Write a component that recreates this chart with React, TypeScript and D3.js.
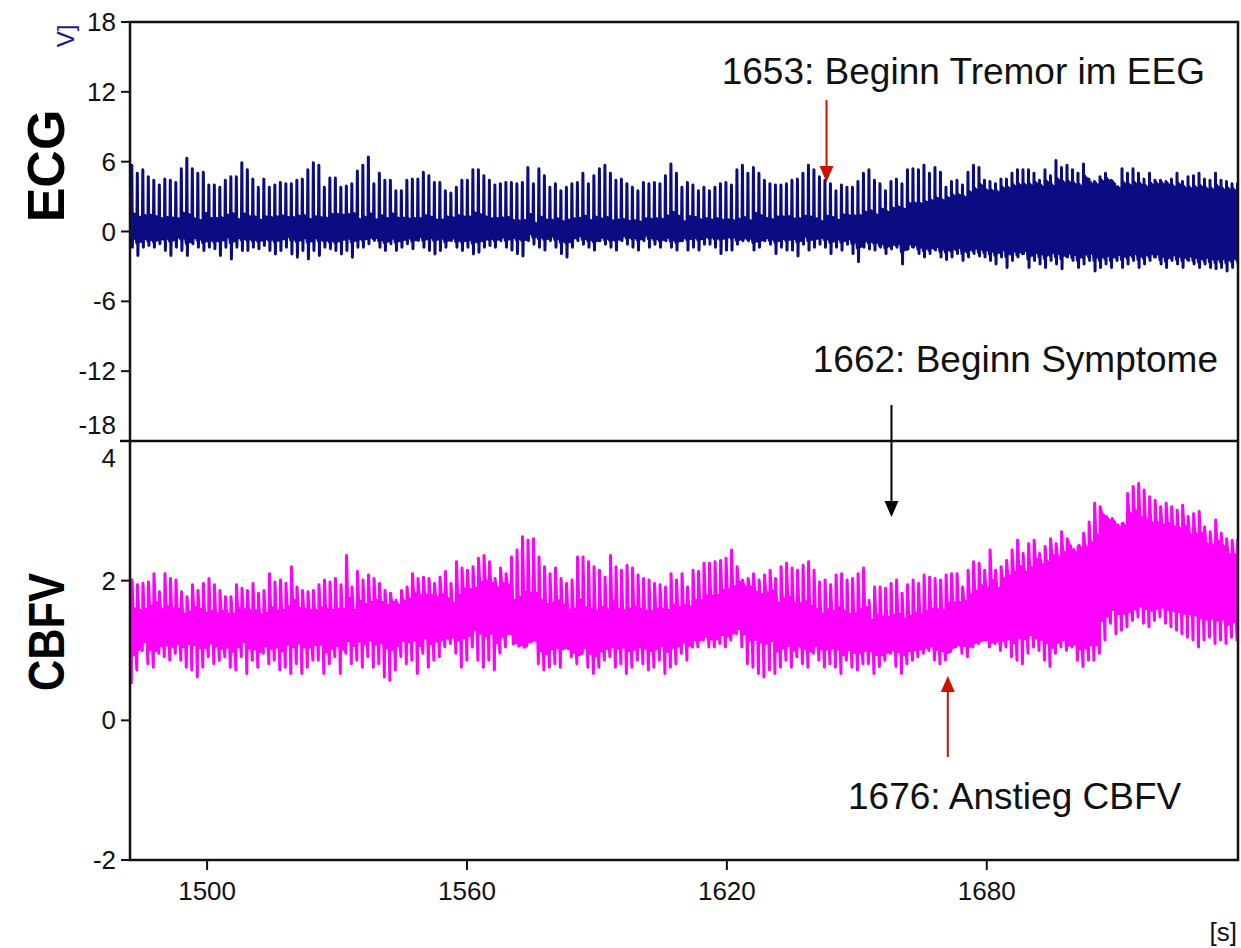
import * as d3 from "d3";

// beat grid (s)
const beatStart = 1482.5;
const beatStep = 1.27;
const binStart = 1482;
const binWidth = 4;

// ECG R-peak heights per beat
const ecgPeaks = [
  5.7, 5.0, 5.3, 4.7, 4.4, 4.0, 4.5, 4.4, 4.2, 5.4,
  6.3, 5.4, 5.0, 5.1, 4.0, 4.0, 3.8, 4.4, 4.7, 4.7,
  5.9, 5.3, 4.5, 3.8, 4.5, 3.8, 4.0, 4.2, 4.1, 4.1,
  4.4, 4.5, 5.3, 5.9, 5.7, 3.8, 4.6, 4.6, 3.8, 3.9,
  4.1, 5.2, 5.7, 6.4, 4.1, 5.0, 4.4, 4.4, 3.5, 3.5,
  4.4, 4.5, 4.5, 5.1, 4.8, 4.2, 4.2, 3.5, 3.3, 3.8,
  4.4, 4.4, 5.3, 5.3, 4.8, 4.4, 4.0,
  4.1, 4.2, 4.2, 4.1, 4.2, 5.5, 4.1, 5.4, 4.8,
  3.8, 4.1, 3.5, 3.8, 4.1, 4.2, 5.0, 4.1, 4.8, 5.4,
  5.7, 5.0, 4.4, 4.5, 4.1, 3.8, 3.5, 4.2, 4.1,
  4.2, 4.1, 4.8, 5.8, 5.0, 3.8, 4.2, 4.0, 3.5, 3.8,
  3.5, 3.8, 4.1, 4.2, 4.0, 5.3, 5.7, 5.0, 5.5, 5.0,
  4.4, 4.1, 4.0, 4.0, 4.1, 4.4, 4.5, 5.0, 5.7, 5.3,
  4.7, 4.4, 4.1, 3.5, 4.0, 3.8, 3.8, 4.3, 5.0,
  5.3, 4.4, 4.1, 3.5, 4.3, 4.5, 4.1, 5.3, 5.4, 5.3,
  5.7, 5.0, 5.5, 5.1, 3.8, 4.3, 4.4, 4.0, 5.1, 5.7,
  5.5, 4.4, 4.3, 4.1, 4.5, 4.5, 5.0, 5.3, 5.3, 5.3,
  5.0, 4.4, 5.3, 4.8, 6.1, 5.5, 5.7, 5.3, 5.0, 5.8,
  4.5, 4.3, 4.7, 5.0, 4.4, 3.2, 5.4, 5.0, 5.4, 5.0,
  4.5, 5.0, 4.4, 4.4, 4.3, 4.5, 5.0, 4.3, 4.7, 4.8,
  5.0, 4.5, 4.4, 5.0, 4.4, 4.3, 4.1, 4.1,
];

// ECG trough per beat
const ecgTroughs = [
  -1.35, -2.07, -1.35, -1.2, -1.35, -1.06, -1.64, -2.07, -1.35, -1.64,
  -2.07, -1.06, -1.35, -1.64, -1.35, -1.49, -2.07, -1.35, -2.36, -1.35,
  -1.64, -1.64, -1.35, -1.49, -1.2, -1.64, -1.93, -1.64, -1.35, -1.93,
  -2.21, -1.64, -2.36, -1.64, -2.07, -1.35, -1.49, -1.64, -1.93, -1.64,
  -2.21, -1.35, -1.35, -1.06, -0.78, -1.35, -1.64, -1.06, -1.64, -1.35,
  -1.06, -1.49, -0.78, -1.35, -1.64, -1.93, -1.64, -1.35, -0.78, -1.35,
  -1.64, -1.35, -1.93, -1.78, -1.35, -1.2, -1.35,
  -0.8, -1.35, -1.6, -1.9, -2.1, -0.8, -1.1, -1.35, -1.6, -0.8,
  -1.35, -1.9, -2.2, -1.35, -0.8, -1.1, -1.35, -1.6, -0.8, -1.1,
  -1.35, -1.6, -0.8, -1.1, -1.35, -1.6, -0.8, -1.35, -1.1, -1.35,
  -0.8, -1.35, -1.6, -0.8, -1.6, -1.35, -1.6, -1.1, -1.1, -1.35,
  -1.9, -1.6, -1.6, -1.1, -0.8, -0.8, -1.6, -1.35, -0.8, -1.1,
  -1.9, -1.35, -1.6, -1.6, -2.1, -1.1, -1.6, -1.35, -1.1, -1.35,
  -1.9, -1.35, -1.6, -1.1, -1.9, -2.6, -1.35,
  -1.5, -1.6, -1.35, -1.9, -1.5, -1.35, -2.8, -1.5, -1.35, -1.9,
  -2.2, -1.9, -1.6, -2.2, -2.4, -2.2, -1.9, -2.5, -2.2, -1.9,
  -2.1, -2.2, -2.5, -2.8, -2.2, -3.1, -2.5, -2.2, -1.9, -3.1,
  -2.5, -2.8, -3.1, -2.5, -2.8, -3.2, -2.2, -2.5, -3.1, -2.8,
  -2.5, -3.4, -3.1, -2.8, -3.1, -2.5, -3.1, -2.8, -2.5, -3.1,
  -2.8, -2.5, -2.2, -2.8, -3.1, -2.5, -2.8, -3.1, -2.5, -2.8,
  -3.1, -2.8, -3.1, -3.2, -3.1, -3.4, -3.1, -2.8,
];

// dense ECG band per 4 s bin
const ecgBandHi = [
  1.4, 1.3, 1.3, 1.2, 1.3, 1.4, 1.3, 1.2, 1.3, 1.3,
  1.2, 1.4, 1.5, 1.3, 1.2, 1.3, 1.2, 1.1, 1.3, 1.4,
  1.3, 1.2, 1.1, 1.0, 1.0, 1.1, 1.2, 1.1, 1.0, 1.0,
  1.2, 1.3, 1.2, 1.1, 1.0, 1.1, 1.3, 1.3, 1.2, 1.1,
  1.2, 1.4, 1.6, 1.9, 2.2, 2.5, 2.8, 3.1, 3.4, 3.7,
  3.9, 4.1, 4.2, 4.3, 4.2, 4.4, 4.3, 4.2, 4.1, 4.2,
  4.0, 3.9, 3.8, 3.7,
];
const ecgBandLo = [
  -0.8, -0.8, -0.7, -0.8, -0.9, -0.8, -0.7, -0.8, -0.8, -0.7,
  -0.8, -0.9, -0.8, -0.7, -0.8, -0.8, -0.7, -0.7, -0.8, -0.9,
  -0.8, -0.7, -0.6, -0.6, -0.7, -0.7, -0.8, -0.7, -0.6, -0.6,
  -0.7, -0.8, -0.7, -0.6, -0.6, -0.7, -0.8, -0.8, -0.7, -0.7,
  -0.8, -0.9, -1.1, -1.3, -1.4, -1.5, -1.6, -1.7, -1.8, -1.9,
  -2.0, -2.1, -2.2, -2.2, -2.3, -2.3, -2.4, -2.3, -2.3, -2.4,
  -2.4, -2.5, -2.6, -2.6,
];

// CBFV systolic maxima per beat
const cbfvMax = [
  2.01, 1.94, 1.96, 1.98, 2.10, 1.84, 2.10, 2.03, 2.01,
  1.84, 1.77, 1.94, 1.86, 1.96, 2.03, 1.94, 1.86, 1.77, 1.77,
  1.94, 1.89, 1.86, 1.96, 1.82, 1.86, 2.10, 1.98, 2.01, 1.96,
  2.20, 1.91, 1.86, 1.84, 1.86, 1.94, 2.01, 1.98, 2.03, 1.94,
  2.36, 1.91, 2.13, 2.01, 2.08, 2.03, 1.96, 1.86, 1.82, 1.72,
  1.86, 1.91, 2.10, 2.03, 2.05, 2.03, 1.96, 2.05, 2.13, 1.96,
  2.27, 2.18, 2.15, 2.20, 2.32, 2.36, 2.27, 2.03,
  2.18, 2.10, 2.34, 2.44, 2.63, 2.58, 2.60, 2.34, 2.20, 2.10,
  2.18, 2.03, 1.96, 2.01, 2.34, 2.34, 2.27, 2.20, 2.15, 2.05,
  2.36, 2.20, 2.15, 2.22, 2.18, 2.08, 2.03, 2.01, 1.96, 1.94,
  1.91, 2.10, 2.01, 2.10, 1.91, 2.15, 2.13, 2.25, 2.25, 2.27,
  2.29, 2.32, 2.44, 2.20, 2.01, 2.03, 2.10, 2.01, 2.08, 2.15,
  2.03, 2.20, 2.25, 2.18, 2.15, 2.22, 2.27, 2.15, 1.98, 2.01,
  1.94, 2.08, 2.10, 2.01, 2.03, 2.10, 2.18,
  1.72, 1.91, 1.91, 1.89, 1.96, 2.01, 1.82, 1.94, 2.01, 1.96,
  2.08, 2.05, 2.03, 2.01, 2.08, 2.10, 2.10, 1.91, 2.15, 2.27,
  2.25, 2.15, 2.44, 2.15, 2.20, 2.29, 2.44, 2.58, 2.39, 2.53,
  2.58, 2.39, 2.49, 2.60, 2.53, 2.70, 2.60, 2.34, 2.49, 2.68,
  2.84, 3.11, 3.06, 2.87, 2.80, 2.58, 2.82, 3.25, 3.35, 3.39,
  3.30, 3.20, 3.15, 3.06, 3.11, 3.06, 3.01, 3.08, 2.92, 2.96,
  2.99, 2.77, 2.70, 2.87, 2.68, 2.60, 2.58, 2.58,
];

// CBFV diastolic minima per beat
const cbfvMin = [
  0.52, 0.72, 1.00, 0.81, 0.76, 0.96, 0.91, 0.86, 0.96, 0.86,
  0.76, 0.72, 0.62, 0.76, 0.91, 0.81, 0.86, 0.91, 0.76, 0.72,
  0.91, 0.67, 0.86, 0.76, 0.96, 0.81, 0.86, 0.72, 0.76, 0.67,
  0.81, 0.67, 0.76, 0.86, 0.86, 0.67, 0.81, 0.91, 0.67, 0.96,
  0.81, 0.86, 0.76, 0.91, 0.76, 0.81, 0.62, 0.57, 0.72, 0.91,
  0.81, 0.86, 0.67, 0.96, 0.76, 0.86, 0.91, 1.05, 1.10, 0.96,
  0.76, 0.86, 1.05, 0.86, 0.76, 0.86, 0.72,
  0.96, 1.05, 1.24, 1.15, 1.10, 1.29, 1.19, 0.81, 0.72, 0.76,
  0.81, 0.76, 1.05, 0.91, 0.81, 0.96, 0.76, 0.67, 0.76, 0.86,
  0.91, 0.76, 0.81, 0.67, 0.76, 0.86, 0.81, 0.72, 0.76, 0.86,
  0.67, 0.76, 0.81, 0.96, 0.86, 1.05, 1.05, 1.15, 1.05, 1.05,
  1.10, 1.05, 1.15, 1.24, 1.05, 0.81, 0.76, 0.67, 0.62, 0.72,
  0.67, 0.76, 0.86, 0.76, 0.91, 0.81, 0.76, 0.96, 0.86, 0.76,
  0.81, 0.76, 0.67, 0.86, 0.76, 0.72, 0.81,
  0.81, 0.67, 0.77, 0.86, 0.96, 0.77, 0.67, 0.81, 0.86, 0.91,
  0.96, 1.00, 0.86, 0.81, 0.86, 1.05, 1.15, 0.96, 0.91, 1.05,
  1.10, 1.15, 1.05, 1.10, 1.00, 1.05, 0.91, 0.86, 0.81, 0.96,
  1.05, 1.00, 0.86, 0.77, 0.96, 1.05, 1.00, 1.05, 0.86, 0.77,
  0.86, 0.86, 0.96, 1.15, 1.39, 1.24, 1.29, 1.34, 1.43, 1.48,
  1.39, 1.34, 1.43, 1.48, 1.39, 1.34, 1.29, 1.24, 1.19, 1.15,
  1.05, 1.15, 1.19, 1.10, 1.15, 1.10, 1.19, 1.15,
];

// dense CBFV band per 4 s bin
const cbfvBandHi = [
  1.6, 1.65, 1.6, 1.6, 1.55, 1.55, 1.6, 1.55, 1.6, 1.65,
  1.6, 1.6, 1.65, 1.7, 1.7, 1.7, 1.8, 1.8, 1.75, 1.9,
  2.0, 1.95, 1.8, 1.75, 1.7, 1.65, 1.6, 1.65, 1.6, 1.6,
  1.6, 1.65, 1.7, 1.8, 1.9, 1.95, 1.85, 1.75, 1.7, 1.6,
  1.6, 1.55, 1.55, 1.5, 1.5, 1.55, 1.6, 1.7, 1.8, 1.95,
  2.1, 2.2, 2.3, 2.4, 2.5, 2.6, 2.9, 2.95, 2.9, 2.85,
  2.8, 2.7, 2.55, 2.4,
];
const cbfvBandLo = [
  1.0, 1.0, 1.05, 1.05, 1.05, 1.0, 1.05, 1.0, 1.0, 1.05,
  1.05, 1.0, 1.05, 1.1, 1.05, 1.05, 1.1, 1.1, 1.15, 1.2,
  1.2, 1.15, 1.05, 1.0, 1.0, 0.95, 0.95, 1.0, 1.0, 1.0,
  1.0, 1.05, 1.1, 1.15, 1.2, 1.2, 1.1, 1.0, 1.0, 1.0,
  1.0, 0.95, 0.95, 0.95, 0.95, 1.0, 1.0, 1.0, 1.05, 1.1,
  1.1, 1.15, 1.1, 1.05, 1.0, 1.0, 1.45, 1.5, 1.55, 1.55,
  1.5, 1.45, 1.4, 1.35,
];

const xTicks = [1500, 1560, 1620, 1680];
const ecgTicks = [18, 12, 6, 0, -6, -12, -18];
const cbfvTicks = [4, 2, 0, -2];

// event markers (time of arrow, label)
const events = [
  { t: 1643, label: "1653: Beginn Tremor im EEG" },
  { t: 1658, label: "1662: Beginn Symptome" },
  { t: 1671, label: "1676: Anstieg CBFV" },
];

const W = 1241, H = 948;
const left = 130, right = 1238;
const top = 22, mid = 441, bottom = 860;
const font = "'Liberation Sans', Arial, sans-serif";
const red = "#cc1100";

const x = d3.scaleLinear().domain([1482.2, 1738]).range([left, right]);
const yEcg = d3.scaleLinear().domain([-18, 18]).range([mid, top]);
const yCbfv = d3.scaleLinear().domain([-2, 4]).range([bottom, mid]);

const beatTime = (i: number) => beatStart + i * beatStep;
const bin = (t: number) => Math.min(63, Math.max(0, Math.floor((t - binStart) / binWidth)));

// mean of a per-beat series within each bin, used to give the band edges some per-beat texture
function binMeans(vals: number[]) {
  const m = d3.rollup(vals.map((v, i) => ({ v, b: bin(beatTime(i)) })), (g) => d3.mean(g, (d) => d.v) as number, (d) => d.b);
  return (b: number) => m.get(b) ?? 0;
}

const texture = [1, 0.92, 0.96, 0.85, 0.93, 0.88];

function signalPoints(
  tops: number[], bots: number[], bandHi: number[], bandLo: number[], peakFirst: boolean
) {
  const topMean = binMeans(tops), botMean = binMeans(bots);
  const pts: [number, number][] = [];
  tops.forEach((p, i) => {
    const t = beatTime(i), b = bin(t);
    const hi = bandHi[b] + 0.4 * (p - topMean(b));
    const lo = bandLo[b] + 0.4 * (bots[i] - botMean(b));
    const c = (hi + lo) / 2;
    if (peakFirst) pts.push([t, lo], [t + 0.12, p], [t + 0.25, bots[i]]);
    else pts.push([t, bots[i]], [t + 0.15, p]);
    for (let k = 0; k < 6; k++) {
      const edge = k % 2 ? lo : hi;
      pts.push([t + 0.4 + k * 0.145, c + (edge - c) * texture[k]]);
    }
  });
  return pts;
}

const ecgLine = d3.line<[number, number]>().x((d) => x(d[0])).y((d) => yEcg(d[1]));
const cbfvLine = d3.line<[number, number]>().x((d) => x(d[0])).y((d) => yCbfv(d[1]));

function Arrow({ cx, y1, y2, color }: { cx: number; y1: number; y2: number; color: string }) {
  // y2 is the tip
  const dir = y2 > y1 ? 1 : -1;
  const head = 16;
  return (
    <g>
      <line x1={cx} x2={cx} y1={y1} y2={y2 - dir * head} stroke={color} strokeWidth={2} />
      <path d={`M${cx - 7},${y2 - dir * head} L${cx + 7},${y2 - dir * head} L${cx},${y2} Z`} fill={color} />
    </g>
  );
}

export default function App() {
  const ecgPts = signalPoints(ecgPeaks, ecgTroughs, ecgBandHi, ecgBandLo, true);
  const cbfvPts = signalPoints(cbfvMax, cbfvMin, cbfvBandHi, cbfvBandLo, false);
  return (
    <svg width={W} height={H} style={{ position: "absolute", left: 0, top: 0, background: "#fff" }} fontFamily={font}>
      <defs>
        <clipPath id="ecgClip"><rect x={left} y={top} width={right - left} height={mid - top} /></clipPath>
        <clipPath id="cbfvClip"><rect x={left} y={mid} width={right - left} height={bottom - mid} /></clipPath>
      </defs>

      <path d={ecgLine(ecgPts) ?? ""} fill="none" stroke="#0c0c82" strokeWidth={3} strokeLinejoin="round" clipPath="url(#ecgClip)" />
      <path d={cbfvLine(cbfvPts) ?? ""} fill="none" stroke="#ff00ff" strokeWidth={3} strokeLinejoin="round" clipPath="url(#cbfvClip)" />

      {/* frame */}
      <rect x={left} y={top} width={right - left} height={bottom - top} fill="none" stroke="#111" strokeWidth={2.5} />
      <line x1={left - 10} x2={right} y1={mid} y2={mid} stroke="#111" strokeWidth={2.5} />

      {/* ECG axis */}
      {ecgTicks.map((v) => (
        <g key={"e" + v}>
          {v !== -18 && <line x1={left - 9} x2={left} y1={yEcg(v)} y2={yEcg(v)} stroke="#111" strokeWidth={2} />}
          <text x={116} y={v === -18 ? yEcg(v) - 16 : yEcg(v)} dy="0.35em" textAnchor="end" fontSize={26} fill="#111">
            {v}
          </text>
        </g>
      ))}
      {/* CBFV axis */}
      {cbfvTicks.map((v) => (
        <g key={"c" + v}>
          {v !== 4 && <line x1={left - 9} x2={left} y1={yCbfv(v)} y2={yCbfv(v)} stroke="#111" strokeWidth={2} />}
          <text x={116} y={v === 4 ? yCbfv(v) + 17 : yCbfv(v)} dy="0.35em" textAnchor="end" fontSize={26} fill="#111">
            {v}
          </text>
        </g>
      ))}
      {/* x axis */}
      {xTicks.map((t) => (
        <g key={"x" + t}>
          <line x1={x(t)} x2={x(t)} y1={bottom} y2={bottom + 10} stroke="#111" strokeWidth={2} />
          <text x={x(t)} y={900} textAnchor="middle" fontSize={26} fill="#111">{t}</text>
        </g>
      ))}
      <text x={1237} y={941} textAnchor="end" fontSize={26} fill="#111">[s]</text>

      {/* channel labels */}
      <text transform="translate(64,166) rotate(-90)" textAnchor="middle" fontSize={52} fontWeight="bold" fill="#000">ECG</text>
      <text transform="translate(64,632) rotate(-90)" textAnchor="middle" fontSize={50} fontWeight="bold" fill="#000" textLength={118} lengthAdjust="spacingAndGlyphs">CBFV</text>
      <text transform="translate(74,36) rotate(-90)" textAnchor="middle" fontSize={24} fill="#1a1a8c">V]</text>

      {/* annotations */}
      <text x={1205} y={84} textAnchor="end" fontSize={37} fill="#111">{events[0].label}</text>
      <Arrow cx={x(events[0].t)} y1={100} y2={182} color={red} />
      <text x={1218} y={372} textAnchor="end" fontSize={37} fill="#111">{events[1].label}</text>
      <Arrow cx={x(events[1].t)} y1={405} y2={517} color="#000" />
      <Arrow cx={x(events[2].t)} y1={757} y2={676} color={red} />
      <text x={848} y={809} textAnchor="start" fontSize={37} fill="#111">{events[2].label}</text>
    </svg>
  );
}
